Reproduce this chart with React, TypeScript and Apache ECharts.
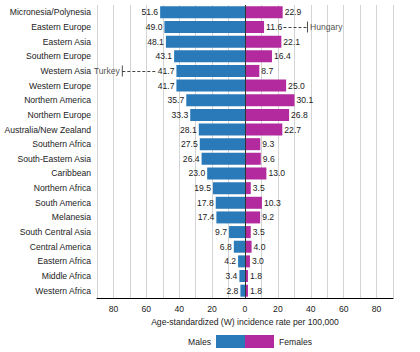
import React, { useEffect, useRef } from "react";
import * as echarts from "echarts";

const regions = [
  "Micronesia/Polynesia", "Eastern Europe", "Eastern Asia", "Southern Europe", "Western Asia",
  "Western Europe", "Northern America", "Northern Europe", "Australia/New Zealand", "Southern Africa",
  "South-Eastern Asia", "Caribbean", "Northern Africa", "South America", "Melanesia",
  "South Central Asia", "Central America", "Eastern Africa", "Middle Africa", "Western Africa",
];
const males = [51.6, 49.0, 48.1, 43.1, 41.7, 41.7, 35.7, 33.3, 28.1, 27.5, 26.4, 23.0, 19.5, 17.8, 17.4, 9.7, 6.8, 4.2, 3.4, 2.8];
const females = [22.9, 11.6, 22.1, 16.4, 8.7, 25.0, 30.1, 26.8, 22.7, 9.3, 9.6, 13.0, 3.5, 10.3, 9.2, 3.5, 4.0, 3.0, 1.8, 1.8];

// highlighted countries
const turkey = { name: "Turkey", region: "Western Asia", value: 74.6, lineEnd: 53.7 };
const hungary = { name: "Hungary", region: "Eastern Europe", value: 38.0, lineStart: 23.4 };

const FONT = "Liberation Sans, Arial, sans-serif";
const BLUE = "#2a7ab9";
const MAGENTA = "#b22a9e";
const FS = 8.6;

export default function App() {
  const ref = useRef<HTMLDivElement>(null);
  useEffect(() => {
    document.body.style.margin = "0";
    const chart = echarts.init(ref.current!, null, { renderer: "svg" });
    chart.setOption({
      animation: false,
      textStyle: { fontFamily: FONT },
      grid: { left: 97, right: 27, top: 5, bottom: 54 },
      legend: [
        {
          data: ["Males"], right: 170, top: 330, align: "right", itemWidth: 29, itemHeight: 13,
          icon: "rect", selectedMode: false,
          textStyle: { fontSize: FS, color: "#222", fontFamily: FONT },
        },
        {
          data: ["Females"], left: 240, top: 330, align: "left", itemWidth: 29, itemHeight: 13,
          icon: "rect", selectedMode: false,
          textStyle: { fontSize: FS, color: "#222", fontFamily: FONT },
        },
      ],
      xAxis: {
        type: "value", min: -90, max: 90, interval: 10,
        name: "Age-standardized (W) incidence rate per 100,000",
        nameLocation: "middle", nameGap: 19,
        nameTextStyle: { fontSize: FS, color: "#222", fontFamily: FONT },
        axisLine: { show: true, onZero: false, lineStyle: { color: "#000", width: 1 } },
        axisTick: { show: false },
        axisLabel: {
          fontSize: FS, color: "#222", margin: 6, fontFamily: FONT,
          formatter: (v: number) => (v % 20 === 0 ? String(Math.abs(v)) : ""),
        },
        splitLine: { show: true, lineStyle: { color: "#d4d4d4", width: 1 } },
      },
      yAxis: {
        type: "category", data: regions, inverse: true,
        axisLine: { show: false }, axisTick: { show: false },
        axisLabel: { fontSize: FS, color: "#222", margin: 6, fontFamily: FONT },
      },
      series: [
        {
          name: "Males", type: "bar", stack: "s", barWidth: 12,
          itemStyle: { color: BLUE },
          data: males.map((v) => -v),
          label: {
            show: true, position: "left", distance: 2, fontSize: FS, color: "#222", fontFamily: FONT,
            formatter: (p: any) => Math.abs(p.value).toFixed(1),
          },
          markLine: {
            silent: true, symbol: "none", label: { show: false },
            lineStyle: { color: "#333", width: 1, type: "solid" },
            data: [{ xAxis: 0 }],
          },
        },
        {
          name: "Females", type: "bar", stack: "s", barWidth: 12,
          itemStyle: { color: MAGENTA },
          data: females,
          label: {
            show: true, position: "right", distance: 2, fontSize: FS, color: "#222", fontFamily: FONT,
            formatter: (p: any) => p.value.toFixed(1),
          },
        },
        {
          name: "countryLines", type: "line", symbol: "none", silent: true,
          data: [],
          markLine: {
            silent: true, symbol: "none", label: { show: false },
            lineStyle: { color: "#444", width: 1, type: [3, 2] },
            data: [
              [{ coord: [-turkey.value, turkey.region] }, { coord: [-turkey.lineEnd, turkey.region] }],
              [{ coord: [hungary.lineStart, hungary.region] }, { coord: [hungary.value, hungary.region] }],
            ],
          },
        },
        {
          name: "countries", type: "scatter", silent: true,
          symbol: "rect", symbolSize: [1, 11],
          itemStyle: { color: "#222" },
          data: [
            { value: [-turkey.value, turkey.region], label: { show: true, position: "left", distance: 2, formatter: turkey.name } },
            { value: [hungary.value, hungary.region], label: { show: true, position: "right", distance: 2, formatter: hungary.name } },
          ],
          label: { fontSize: FS, color: "#222", fontFamily: FONT },
          z: 5,
        },
      ],
    });
    return () => chart.dispose();
  }, []);
  return <div ref={ref} style={{ width: 420, height: 352 }} />;
}
